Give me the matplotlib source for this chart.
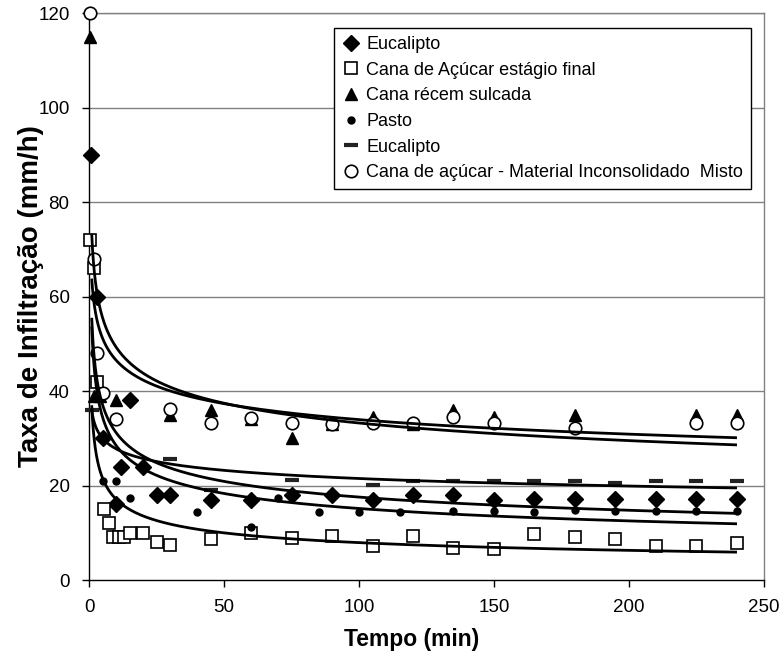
import numpy as np
import matplotlib
matplotlib.use("Agg")
import matplotlib.pyplot as plt
from matplotlib.lines import Line2D

plt.rcParams['font.family'] = ['Liberation Sans', 'DejaVu Sans']

# --- measured infiltration rates (mm/h) vs time (min) ---
t_euc = [0.7, 3, 5, 10, 12, 15, 20, 25, 30, 45, 60, 75, 90, 105, 120, 135, 150,
         165, 180, 195, 210, 225, 240]
v_euc = [90, 60, 30, 16, 24, 38, 24, 18, 18, 17, 17, 18, 18, 17, 18, 18, 17,
         17.2, 17.2, 17.2, 17.2, 17.2, 17.2]

t_cana_final = [0.5, 2, 3, 5.5, 7.5, 9, 11, 13, 15, 20, 25, 30, 45, 60, 75, 90,
                105, 120, 135, 150, 165, 180, 195, 210, 225, 240]
v_cana_final = [72, 66, 42, 15, 12, 9, 9, 9, 10, 10, 8, 7.4, 8.7, 10, 8.9, 9.4,
                7.3, 9.4, 6.7, 6.5, 9.7, 9.2, 8.6, 7.3, 7.3, 7.8]

t_cana_sulcada = [0.5, 2, 4, 10, 30, 45, 60, 75, 90, 105, 120, 135, 150, 180,
                  225, 240]
v_cana_sulcada = [115, 39, 39, 38, 35, 36, 34, 30, 33, 34.6, 33, 36, 34.6, 35,
                  35, 35]

t_pasto = [5, 10, 15, 40, 60, 70, 85, 100, 115, 135, 150, 165, 180, 195, 210,
           225, 240]
v_pasto = [21, 21, 17.3, 14.5, 11.3, 17.4, 14.5, 14.5, 14.5, 14.6, 14.6, 14.5,
           14.8, 14.6, 14.6, 14.6, 14.6]

t_euc2 = [1, 30, 45, 75, 105, 120, 135, 150, 165, 180, 195, 210, 225, 240]
v_euc2 = [36, 25.7, 19, 21.2, 20.1, 21, 21, 21, 21, 21, 20.6, 21, 21, 21]

t_cana_misto = [0.5, 2, 3, 5, 10, 30, 45, 60, 75, 90, 105, 120, 135, 150, 180,
                225, 240]
v_cana_misto = [120, 68, 48, 39.6, 34, 36.3, 33.2, 34.3, 33.2, 33, 33.2, 33.2,
                34.4, 33.2, 32.2, 33.2, 33.2]

# power-law trend lines  i = a * t^(-b)
fit_a = {"euc": 55.5, "cana_final": 37.0, "cana_sulcada": 73.2,
         "pasto": 53.7, "euc2": 35.9, "cana_misto": 63.8}
fit_b = {"euc": 0.25, "cana_final": 0.335, "cana_sulcada": 0.1715,
         "pasto": 0.275, "euc2": 0.1115, "cana_misto": 0.137}

labels = ["Eucalipto", "Cana de Açúcar estágio final", "Cana récem sulcada",
          "Pasto", "Eucalipto", "Cana de açúcar - Material Inconsolidado  Misto"]

x_ticks = [0, 50, 100, 150, 200, 250]
y_ticks = [0, 20, 40, 60, 80, 100, 120]

fig = plt.figure(figsize=(7.83, 6.55), dpi=100)
ax = fig.add_axes([0.1137, 0.1145, 0.862, 0.8655])

ax.set_xlim(0, 250)
ax.set_ylim(0, 120)

for yv in y_ticks[1:]:
    ax.axhline(yv, color='#808080', lw=1.0, zorder=1)

# trend lines
tt = np.geomspace(1, 240, 400)
for key in fit_a:
    ax.plot(tt, fit_a[key] * tt ** (-fit_b[key]), color='black', lw=2.0,
            zorder=4, solid_capstyle='butt')

styles = [
    dict(marker='D', ms=8, mfc='black', mec='black', mew=1),
    dict(marker='s', ms=8.5, mfc='white', mec='black', mew=1.2),
    dict(marker='^', ms=9, mfc='black', mec='black', mew=1),
    dict(marker='o', ms=5, mfc='black', mec='black', mew=1),
    dict(marker='_', ms=10, mfc='#222222', mec='#222222', mew=3),
    dict(marker='o', ms=9, mfc='white', mec='black', mew=1.2),
]
series = [(t_euc, v_euc), (t_cana_final, v_cana_final),
          (t_cana_sulcada, v_cana_sulcada), (t_pasto, v_pasto),
          (t_euc2, v_euc2), (t_cana_misto, v_cana_misto)]

handles = []
for (tx, vy), st, lab in zip(series, styles, labels):
    ax.plot(tx, vy, linestyle='none', zorder=3, clip_on=False, **st)
    handles.append(Line2D([], [], linestyle='none', **st, label=lab))

ax.set_xticks(x_ticks)
ax.set_yticks(y_ticks)
ax.tick_params(axis='both', direction='out', length=5, width=1, labelsize=13.5,
               colors='black')
ax.tick_params(axis='y', pad=9)
ax.tick_params(axis='x', pad=9)
for s in ['left', 'bottom']:
    ax.spines[s].set_color('black')
    ax.spines[s].set_linewidth(1.0)
for s in ['top', 'right']:
    ax.spines[s].set_color('#808080')
    ax.spines[s].set_linewidth(1.0)

ax.set_xlabel('Tempo (min)', fontsize=16.5, fontweight='bold')
ax.xaxis.set_label_coords(0.478, -0.085)
ax.set_ylabel('Taxa de Infiltração (mm/h)', fontsize=20, fontweight='bold')
ax.yaxis.set_label_coords(-0.066, 0.5)

leg = ax.legend(handles=handles, loc='upper right',
                bbox_to_anchor=(0.981, 0.974), fontsize=13, frameon=True,
                fancybox=False, edgecolor='black', framealpha=1,
                handlelength=1.0, handletextpad=0.35, labelspacing=0.48,
                borderpad=0.45, numpoints=1, borderaxespad=0)
leg.get_frame().set_linewidth(1.0)
leg.set_zorder(10)

fig.savefig('out.png', dpi=100)
